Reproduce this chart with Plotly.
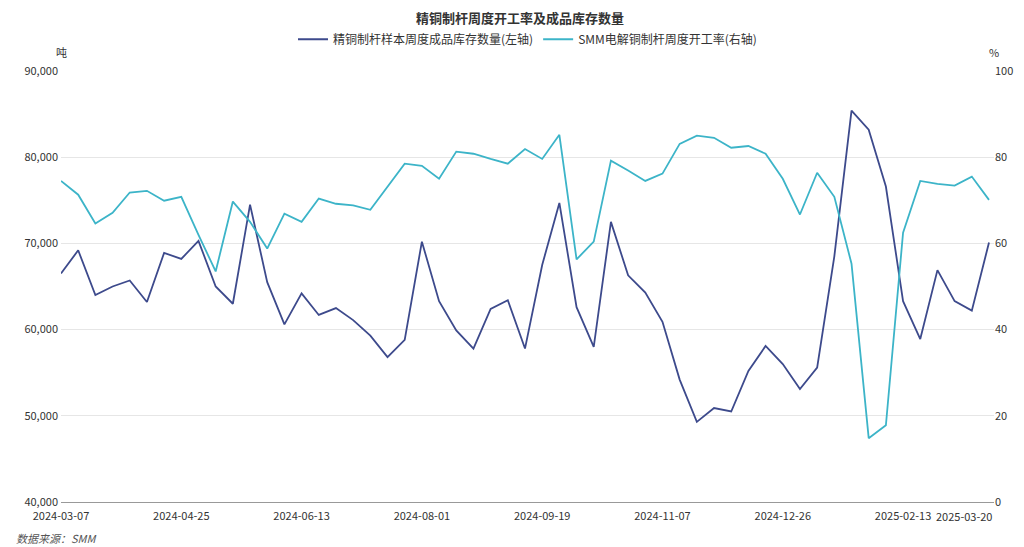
import pandas as pd
import plotly.graph_objects as go

dates = pd.date_range("2024-03-07", periods=55, freq="7D").strftime("%Y-%m-%d").tolist()

inventory = [66500, 69200, 64000, 65000, 65700, 63200, 68900, 68200, 70300, 65000,
             63000, 74500, 65500, 60600, 64200, 61700, 62500, 61100, 59300, 56800,
             58800, 70200, 63300, 59900, 57800, 62400, 63400, 57800, 67500, 74700,
             62600, 58000, 72500, 66300, 64300, 60900, 54200, 49300, 50900, 50500,
             55200, 58100, 56000, 53100, 55600, 68500, 85400, 83200, 76600, 63300,
             58900, 66900, 63300, 62200, 70100]

rate = [74.5, 71.3, 64.6, 67.1, 71.8, 72.2, 69.9, 70.8, 62.0, 53.5,
        69.7, 65.0, 58.8, 66.9, 65.0, 70.4, 69.2, 68.8, 67.8, 73.1,
        78.5, 78.0, 75.0, 81.3, 80.8, 79.6, 78.5, 81.9, 79.6, 85.2,
        56.3, 60.4, 79.2, 76.9, 74.5, 76.2, 83.1, 85.0, 84.5, 82.2,
        82.6, 80.8, 75.0, 66.7, 76.4, 70.8, 55.3, 14.8, 17.8, 62.5,
        74.5, 73.8, 73.4, 75.5, 70.1]

tick_labels = ["2024-03-07", "2024-04-25", "2024-06-13", "2024-08-01", "2024-09-19",
               "2024-11-07", "2024-12-26", "2025-02-13"]
last_label = "2025-03-20"

fig = go.Figure()
fig.add_trace(go.Scatter(x=dates, y=inventory, mode="lines", name="精铜制杆样本周度成品库存数量(左轴)",
                         line=dict(color="#3d4a8c", width=1.8)))
fig.add_trace(go.Scatter(x=dates, y=rate, mode="lines", name="SMM电解铜制杆周度开工率(右轴)",
                         line=dict(color="#3cb4c8", width=1.8), yaxis="y2"))

fig.update_layout(
    width=1024, height=547,
    font=dict(family="Noto Sans CJK SC", size=11, color="#333"),
    title=dict(text="<b>精铜制杆周度开工率及成品库存数量</b>", x=0.5, y=0.99, font=dict(size=13)),
    legend=dict(orientation="h", x=0.5, xanchor="center", y=1.04, yanchor="bottom", font=dict(size=12)),
    plot_bgcolor="white", paper_bgcolor="white",
    margin=dict(l=53, r=38, t=63, b=53),
    xaxis=dict(type="category", tickvals=tick_labels, ticktext=tick_labels, showgrid=False,
               showline=True, linecolor="#999", ticks="", tickfont=dict(size=11),
               ticklabelstandoff=4, automargin=False),
    yaxis=dict(range=[40000, 90000], dtick=10000, tickformat=",", gridcolor="#e6e6e6",
               zeroline=False, ticks="", ticklabelstandoff=2, automargin=False),
    yaxis2=dict(range=[0, 100], dtick=20, overlaying="y", side="right", showgrid=False,
                zeroline=False, ticks="", automargin=False),
    annotations=[
        dict(text="吨", xref="paper", yref="paper", x=0, y=1.02, xanchor="center", yanchor="bottom",
             showarrow=False, font=dict(size=11)),
        dict(text="%", xref="paper", yref="paper", x=1, y=1.02, xanchor="center", yanchor="bottom",
             showarrow=False, font=dict(size=11)),
        dict(text=last_label, xref="x", yref="paper", x=dates[-1], y=-0.01, xanchor="right",
             yanchor="top", xshift=5, showarrow=False, font=dict(size=11)),
        dict(text="<i>数据来源：SMM</i>", xref="paper", yref="paper", x=-0.05, y=-0.06,
             xanchor="left", yanchor="top", showarrow=False, font=dict(size=11, color="#555")),
    ],
)

fig.write_html("out.html")
